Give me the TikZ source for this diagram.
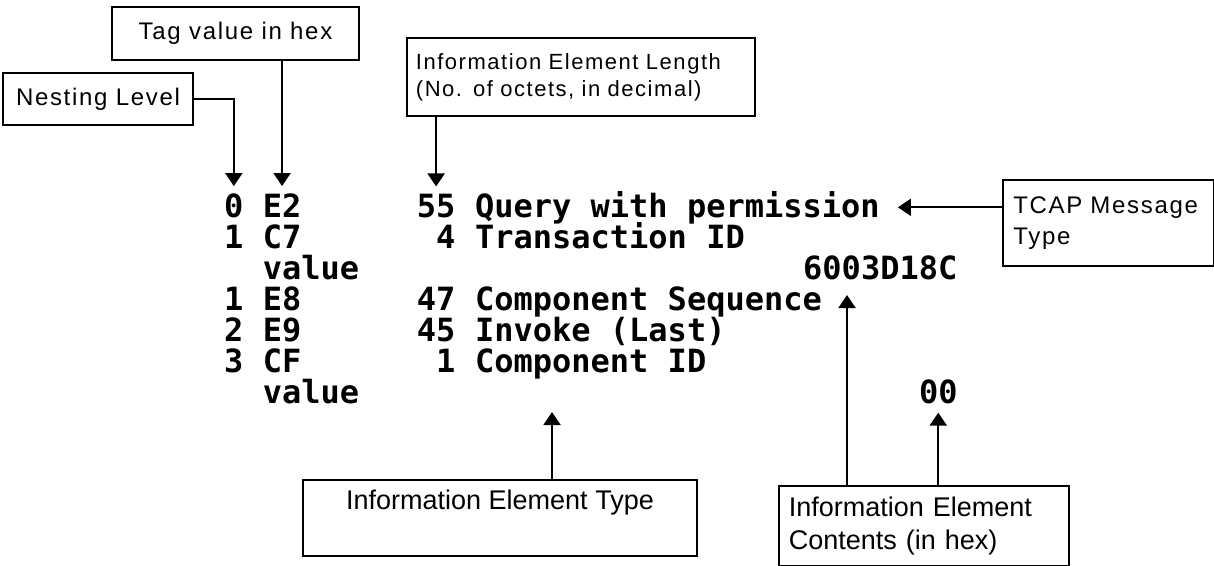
\documentclass[tikz,border=0pt]{standalone}
\usepackage{fontspec}
\setmainfont{Liberation Sans}
\newfontfamily\boxfont[LetterSpace=7]{Liberation Sans}
\newfontfamily\monofont{DejaVu Sans Mono}
\usetikzlibrary{arrows.meta,calc}
\tikzset{
  box/.style={draw, line width=1.8pt, rectangle, inner sep=0pt},
  topbox/.style={box, font=\boxfont\fontsize{24}{27}\selectfont},
  botbox/.style={box, font=\fontsize{27}{33}\selectfont},
  mono/.style={inner sep=0pt, anchor=base west, font=\monofont\bfseries\fontsize{32}{31}\selectfont},
  monor/.style={mono, anchor=base east},
  arr/.style={line width=2pt, -{Triangle[width=17pt,length=13pt]}},
}
\begin{document}
\begin{tikzpicture}[x=1pt,y=-1pt]
\fill[white] (0,0) rectangle (1214,565);
\useasboundingbox (0,0) rectangle (1214,565);

% boxes
\node[topbox, minimum width=247pt, minimum height=53pt] (tag) at (235.5,33.5) {Tag value in hex};
\node[topbox, minimum width=190pt, minimum height=52pt] (nest) at (98,99) {Nesting Level};
\node[topbox, font=\boxfont\fontsize{22}{27}\selectfont, anchor=north west, minimum height=78pt, text width=330pt, inner xsep=9pt, align=left] (len) at (406,37) {Information Element Length\\(No. of octets, in decimal)};
\node[topbox, font=\boxfont\fontsize{24}{31}\selectfont, anchor=north west, minimum height=86pt, text width=190pt, inner xsep=10.5pt, align=left] (tcap) at (1002,179) {TCAP Message\\Type};
\node[botbox, minimum width=394pt, text height=21pt, text depth=38pt, inner ysep=8.5pt, anchor=north] (iet) at (500,479) {Information Element Type};
\node[botbox, anchor=north west, minimum height=80pt, text width=270pt, inner xsep=10pt, align=left] (iec) at (778,485) {Information Element\\Contents (in hex)};

% listing rows
\node[mono] (l0) at (224,217) {0};
\node[mono] (t0) at (262.6,217) {E2};
\node[monor] (n0) at (455.6,217) {55};
\node[mono] (d0) at (474.9,217) {Query with permission};

\node[mono] (l1) at (224,248) {1};
\node[mono] (t1) at (262.6,248) {C7};
\node[monor] (n1) at (455.6,248) {4};
\node[mono] (d1) at (474.9,248) {Transaction ID};

\node[mono] (v2) at (262.6,279) {value};
\node[mono] (h2) at (803,279) {6003D18C};

\node[mono] (l3) at (224,310) {1};
\node[mono] (t3) at (262.6,310) {E8};
\node[monor] (n3) at (455.6,310) {47};
\node[mono] (d3) at (474.9,310) {Component Sequence};

\node[mono] (l4) at (224,341) {2};
\node[mono] (t4) at (262.6,341) {E9};
\node[monor] (n4) at (455.6,341) {45};
\node[mono] (d4) at (474.9,341) {Invoke (Last)};

\node[mono] (l5) at (224,372) {3};
\node[mono] (t5) at (262.6,372) {CF};
\node[monor] (n5) at (455.6,372) {1};
\node[mono] (d5) at (474.9,372) {Component ID};

\node[mono] (v6) at (262.6,403) {value};
\node[mono] (h6) at (918.8,403) {00};

% connectors
\coordinate (ptype) at (552,412);
\coordinate (pval) at (847,295);
\draw[arr, shorten >=7pt] (nest.east) -| (l0.north);
\draw[arr, shorten >=7pt] (tag.south -| t0.north) -- (t0.north);
\draw[arr, shorten >=7pt] (len.south -| n0.north) -- (n0.north);
\draw[arr, shorten >=18pt] (tcap.west |- d0.east) -- (d0.east);
\draw[arr] (iet.north -| ptype) -- (ptype);
\draw[arr] (iec.north -| pval) -- (pval);
\draw[arr, shorten >=9pt] (iec.north -| h6.south) -- (h6.south);
\end{tikzpicture}
\end{document}
